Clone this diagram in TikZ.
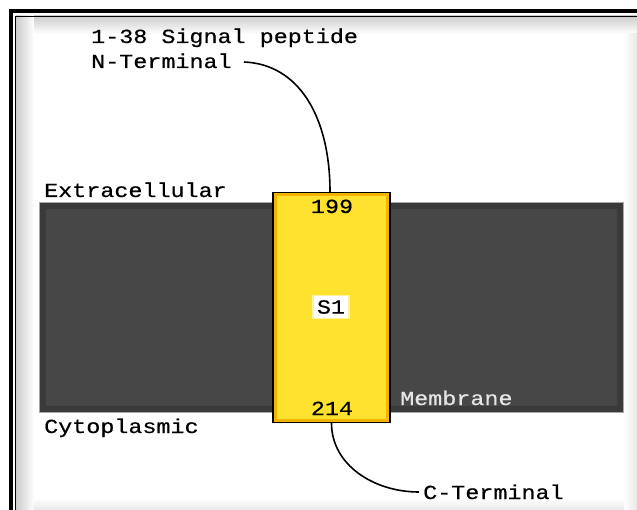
\documentclass[tikz,border=0pt]{standalone}
\usepackage{fontspec}
\newfontfamily\pxfont{Liberation Mono}[FakeStretch=1.17,FakeBold=0.5]
\usetikzlibrary{calc}
\definecolor{memfill}{HTML}{474747}
\definecolor{memedge}{HTML}{3A3A3A}
\definecolor{memhi}{HTML}{A8A8A8}
\definecolor{helixfill}{HTML}{FFE22E}
\definecolor{helixedge}{HTML}{F2B400}
\definecolor{halo}{HTML}{FFF3A0}
\begin{document}
\begin{tikzpicture}[x=1pt,y=-1pt,
  lbl/.style={font=\pxfont\fontsize{20}{20}\selectfont, inner sep=0pt, anchor=base west},
  num/.style={font=\pxfont\fontsize{20}{20}\selectfont, inner sep=0pt, anchor=base},
  conn/.style={line width=1.6pt, black}]
\useasboundingbox (0,0) rectangle (637,510);
\clip (0,0) rectangle (637,510);
\fill[white] (0,0) rectangle (637,510);
% soft inner shadow
\shade[left color=gray!40, right color=white] (16,16) rectangle (34,520);
\shade[top color=gray!40, bottom color=white] (34,16) rectangle (650,34);
\shade[left color=white, right color=gray!18] (624,34) rectangle (637,520);
\shade[top color=white, bottom color=gray!18] (34,498) rectangle (624,510);
% frame
\draw[line width=4pt] (10.5,11.3) rectangle (700,600);
\draw[line width=1.2pt] (15.5,16.2) rectangle (700,600);
% membrane
\fill[memhi] (39,202) rectangle (624,413);
\fill[memedge] (40,203) rectangle (623,412);
\fill[memfill] (46,209) rectangle (617,406);
% helix
\node[draw=black, line width=1.2pt, fill=helixedge, minimum width=117pt, minimum height=230pt, inner sep=0pt] (helix) at (331.5,307.5) {};
\fill[helixfill] ($(helix.north west)+(5,4)$) rectangle ($(helix.south east)+(-5,-4)$);
\node[num] (n199) at (332,213) {199};
\node[num] (n214) at (332,415) {214};
\node[fill=white, draw=halo, line width=1.5pt, minimum width=36pt, minimum height=23pt, inner sep=0pt, font=\pxfont\fontsize{20}{20}\selectfont] (s1) at (331,307) {S1};
% labels
\node[lbl] (sig) at (91,43) {1-38 Signal peptide};
\node[lbl] (nterm) at (91,68) {N-Terminal};
\node[lbl] (extra) at (44,197) {Extracellular};
\node[lbl] (cyto) at (44,433) {Cytoplasmic};
\node[lbl, text=gray!20] (mem) at (400,405) {Membrane};
\node[lbl] (cterm) at (423,499) {C-Terminal};
% connectors
\draw[conn] ([shift={(12,-6)}]nterm.base east) .. controls +(55,2) and +(0,-75) .. ([xshift=-1.5pt]helix.north);
\draw[conn] (helix.south) .. controls +(0,42) and +(-45,0) .. ([shift={(-4,-7)}]cterm.base west);
\end{tikzpicture}
\end{document}
